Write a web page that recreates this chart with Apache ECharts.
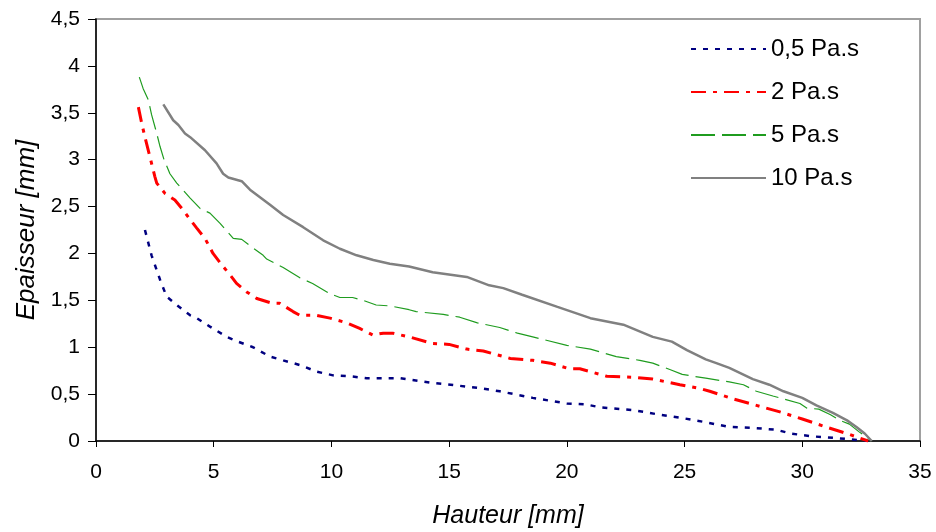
<!DOCTYPE html>
<html>
<head>
<meta charset="utf-8">
<script src="https://cdn.jsdelivr.net/npm/echarts@6/dist/echarts.min.js"></script>
<style>html,body{margin:0;padding:0;background:#fff}#c{width:936px;height:532px}</style>
</head>
<body>
<div id="c"></div>
<script>
// Hauteur [mm] (x) and Epaisseur [mm] (y) for each viscosity
var seriesNames = ['0,5 Pa.s', '2 Pa.s', '5 Pa.s', '10 Pa.s'];

var hauteur05 = [2.08,2.36,2.72,3.0,3.43,4.0,4.28,4.84,5.55,6.03,6.67,7.39,7.95,8.66,9.37,10.07,10.8,11.5,12.2,12.9,14.3,15.75,16.4,17.15,18.55,20.0,20.8,21.4,22.8,23.95,24.9,25.9,26.9,27.9,28.9,29.5,30.4,31.5,32.4,32.8];
var epaisseur05 = [2.25,1.98,1.72,1.54,1.45,1.34,1.31,1.22,1.11,1.06,1.00,0.90,0.86,0.81,0.74,0.70,0.69,0.67,0.67,0.67,0.62,0.58,0.56,0.53,0.46,0.40,0.39,0.36,0.33,0.28,0.245,0.2,0.15,0.14,0.12,0.08,0.05,0.03,0.01,0];

var hauteur2 = [1.8,1.94,2.08,2.29,2.5,2.58,2.93,3.35,3.71,4.0,4.28,4.63,4.97,5.4,5.7,5.97,6.4,6.83,7.47,7.8,8.37,8.66,9.37,9.94,10.65,11.2,11.76,12.2,12.6,13.3,14.3,15.0,15.75,16.45,17.6,18.55,19.3,20.1,20.55,21.7,22.8,23.65,24.8,25.65,26.07,27.05,28.05,29.05,30.0,31.0,32.0,32.8];
var epaisseur2 = [3.56,3.39,3.24,3.03,2.82,2.75,2.64,2.57,2.46,2.36,2.27,2.16,2.0,1.86,1.77,1.68,1.59,1.52,1.47,1.47,1.38,1.34,1.34,1.31,1.26,1.20,1.13,1.15,1.15,1.11,1.04,1.03,0.98,0.96,0.88,0.86,0.83,0.77,0.77,0.69,0.68,0.66,0.60,0.56,0.53,0.45,0.38,0.31,0.235,0.15,0.07,0];

var hauteur5 = [1.84,2.0,2.22,2.36,2.58,2.72,2.89,3.14,3.43,4.0,4.42,4.84,5.27,5.83,6.19,6.55,7.1,7.25,7.95,8.66,9.2,9.94,10.36,10.9,11.35,11.9,12.5,13.3,13.6,14.75,15.45,16.2,17.15,17.9,18.55,20.0,21.0,22.1,23.1,23.65,24.4,24.9,25.9,26.9,27.5,28.05,28.75,29.9,30.2,30.7,31.2,31.6,32.0,32.4,32.95];
var epaisseur5 = [3.88,3.76,3.64,3.48,3.28,3.14,3.0,2.85,2.75,2.59,2.48,2.43,2.32,2.16,2.15,2.08,1.98,1.94,1.85,1.74,1.68,1.57,1.53,1.53,1.50,1.45,1.44,1.40,1.38,1.35,1.32,1.26,1.21,1.15,1.11,1.02,0.98,0.90,0.86,0.83,0.76,0.71,0.67,0.63,0.60,0.53,0.48,0.40,0.35,0.34,0.28,0.22,0.18,0.10,0];

var hauteur10 = [2.86,3.28,3.5,3.78,4.0,4.63,5.12,5.4,5.62,6.19,6.54,7.39,7.95,8.8,9.65,10.36,11.07,11.78,12.48,13.3,14.3,15.75,16.7,17.3,18.1,19.6,21.0,22.4,23.65,24.46,25.1,25.9,26.35,26.9,27.9,28.6,29.2,30.0,30.6,31.3,31.9,32.3,32.65,32.95];
var epaisseur10 = [3.59,3.42,3.37,3.28,3.24,3.10,2.96,2.85,2.81,2.77,2.68,2.52,2.41,2.28,2.14,2.05,1.98,1.93,1.89,1.86,1.80,1.75,1.66,1.63,1.56,1.43,1.31,1.24,1.11,1.06,0.97,0.87,0.83,0.78,0.66,0.60,0.53,0.46,0.38,0.30,0.22,0.15,0.08,0];

function pairs(xs, ys) { return xs.map(function (x, i) { return [x, ys[i]]; }); }
function comma(v) { return String(v).replace('.', ','); }

var font = '"Liberation Sans", Arial, sans-serif';
var chart = echarts.init(document.getElementById('c'), null, { renderer: 'canvas' });
chart.setOption({
  animation: false,
  backgroundColor: '#ffffff',
  grid: { left: 96, right: 16, top: 19, bottom: 91, show: true, borderColor: '#a0a0a0', borderWidth: 2, containLabel: false, outerBoundsMode: 'none' },
  legend: {
    orient: 'vertical', left: 690, top: 36, padding: 0,
    itemWidth: 75, itemHeight: 12, itemGap: 17,
    itemStyle: { opacity: 0 },
    textStyle: { fontFamily: font, fontSize: 24, color: '#000', lineHeight: 26 },
    data: seriesNames
  },
  xAxis: {
    type: 'value', min: 0, max: 35, interval: 5,
    name: 'Hauteur [mm]', nameLocation: 'middle', nameGap: 63,
    nameTextStyle: { fontFamily: font, fontSize: 25, fontStyle: 'italic', color: '#000' },
    axisLine: { onZero: false, lineStyle: { color: '#000', width: 1.5 } },
    axisTick: { length: 6, lineStyle: { color: '#000' } },
    axisLabel: { margin: 21, fontFamily: font, fontSize: 21, color: '#000', formatter: comma },
    splitLine: { show: false }
  },
  yAxis: {
    type: 'value', min: 0, max: 4.5, interval: 0.5,
    name: 'Epaisseur [mm]', nameLocation: 'middle', nameGap: 56,
    nameTextStyle: { fontFamily: font, fontSize: 26, fontStyle: 'italic', color: '#000' },
    axisLine: { show: true, onZero: false, lineStyle: { color: '#000', width: 1.5 } },
    axisTick: { show: true, length: 8, lineStyle: { color: '#000' } },
    axisLabel: { margin: 16, fontFamily: font, fontSize: 21, color: '#000', formatter: comma },
    splitLine: { show: false }
  },
  series: [
    { name: seriesNames[0], type: 'line', symbol: 'none', data: pairs(hauteur05, epaisseur05),
      lineStyle: { color: '#000080', width: 2.5, type: [5, 7] }, itemStyle: { color: '#000080' } },
    { name: seriesNames[1], type: 'line', symbol: 'none', data: pairs(hauteur2, epaisseur2),
      lineStyle: { color: '#ff0000', width: 3, type: [15, 7, 4, 7] }, itemStyle: { color: '#ff0000' } },
    { name: seriesNames[2], type: 'line', symbol: 'none', data: pairs(hauteur5, epaisseur5),
      lineStyle: { color: '#1f9c1f', width: 1.2, type: [24, 7] }, itemStyle: { color: '#1f9c1f' } },
    { name: seriesNames[3], type: 'line', symbol: 'none', data: pairs(hauteur10, epaisseur10),
      lineStyle: { color: '#808080', width: 2.5, type: 'solid' }, itemStyle: { color: '#808080' } }
  ]
});
</script>
</body>
</html>
